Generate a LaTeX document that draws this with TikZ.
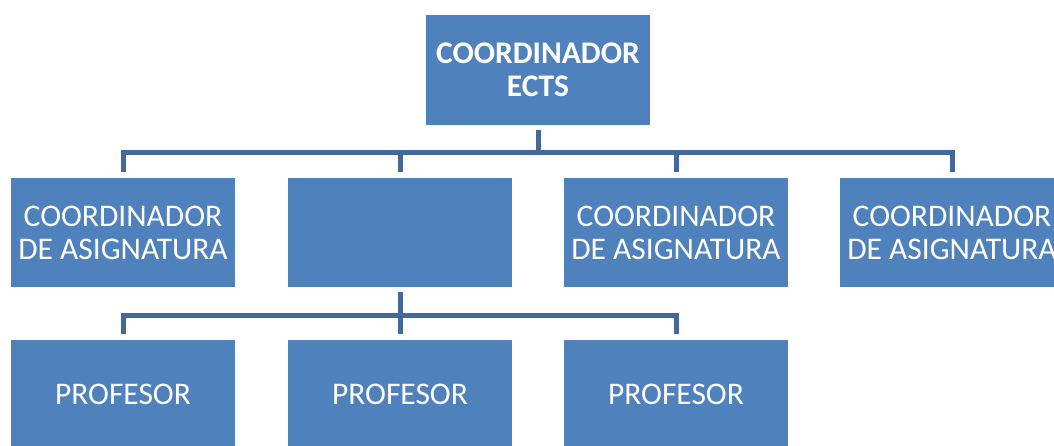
\documentclass[tikz,border=0pt]{standalone}
\usepackage{fontspec}
\setmainfont{Carlito}
\definecolor{boxblue}{HTML}{4F81BD}
\definecolor{linkblue}{HTML}{41699C}

\begin{document}
\begin{tikzpicture}
  [x=1pt,y=-1pt,
   every node/.style={rectangle,fill=boxblue,text=white,inner sep=0pt,
     minimum width=224pt,minimum height=109pt,align=center,
     font=\fontsize{31.5}{33}\selectfont},
   link/.style={draw=linkblue,line width=5pt,line join=miter}]
  \useasboundingbox (0,0) rectangle (1054,445);
  \clip (0,0) rectangle (1054,445);

  \node[minimum height=110pt,font=\fontsize{31.5}{33}\selectfont\bfseries] (ects) at (538,70) {COORDINADOR\\ECTS};

  \node (asig1) at (123,232.5) {COORDINADOR\\DE ASIGNATURA};
  \node (asig2) at (400,232.5) {};
  \node (asig3) at (676,232.5) {COORDINADOR\\DE ASIGNATURA};
  \node (asig4) at (952,232.5) {COORDINADOR\\DE ASIGNATURA};

  \node (prof1) at (123,394.5) {PROFESOR};
  \node (prof2) at (400,394.5) {PROFESOR};
  \node (prof3) at (676,394.5) {PROFESOR};

  \coordinate (bus1) at (538,152);
  \coordinate (bus2) at (400,315);

  \draw[link,shorten <=5pt] (ects.south) -- (bus1);
  \foreach \to in {asig1,asig2,asig3,asig4}
    \draw[link,shorten >=6pt] (bus1) -| (\to.north);

  \draw[link,shorten <=5pt] (asig2.south) -- (bus2);
  \foreach \to in {prof1,prof2,prof3}
    \draw[link,shorten >=6pt] (bus2) -| (\to.north);

\end{tikzpicture}
\end{document}
